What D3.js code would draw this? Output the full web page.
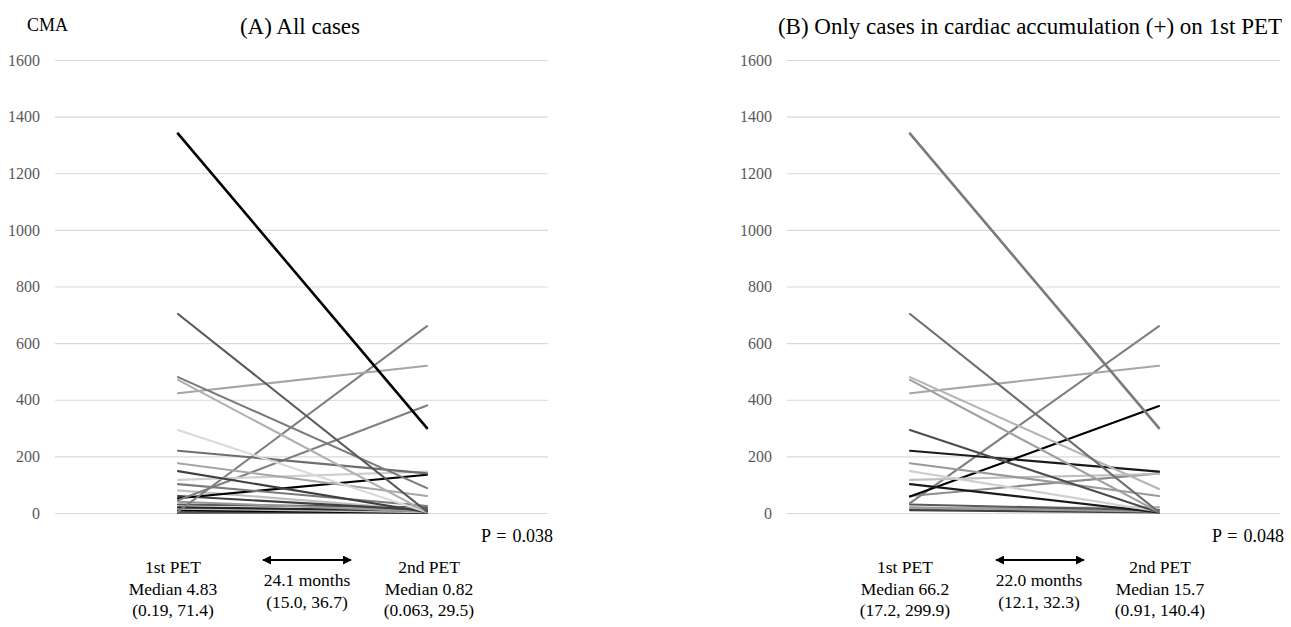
<!DOCTYPE html>
<html>
<head>
<meta charset="utf-8">
<script src="https://cdn.jsdelivr.net/npm/d3@7"></script>
<style>
  html, body { margin: 0; padding: 0; background: #fff; }
  svg { display: block; }
  svg text { font-family: "Liberation Serif", "Times New Roman", serif; }
</style>
</head>
<body>
<svg id="chart" width="1291" height="627"></svg>
<script>
// ---------- data ----------
const timepoints = ["1st PET", "2nd PET"];
const yTicks = [0, 200, 400, 600, 800, 1000, 1200, 1400, 1600];

// Panel A: all cases (CMA at 1st PET, CMA at 2nd PET)
const allFirst  = [1340, 703, 480, 470, 423, 293, 220, 176, 148, 117, 102, 5, 45, 52, 60, 80, 40, 30, 20, 15, 10, 8, 5, 3, 2, 1, 0.5, 0.2];
const allSecond = [300, 5, 88, 3, 520, 3, 140, 60, 3, 146, 25, 660, 380, 135, 10, 10, 5, 20, 8, 3, 1, 15, 2, 0.5, 1, 0.5, 0.2, 0.1];
const allColors = ["#000000", "#595959", "#7a7a7a", "#b0b0b0", "#a6a6a6", "#d9d9d9", "#6e6e6e", "#a6a6a6", "#404040", "#cfcfcf", "#7a7a7a", "#7f7f7f", "#808080", "#000000", "#404040", "#c0c0c0", "#999999", "#595959", "#262626", "#bfbfbf", "#000000", "#7f7f7f", "#404040", "#a6a6a6", "#595959", "#262626", "#808080", "#000000"];

// Panel B: only cases with cardiac accumulation (+) on 1st PET
const posFirst  = [1340, 703, 480, 470, 423, 293, 220, 176, 148, 117, 102, 58, 35, 60, 30, 20, 10, 15];
const posSecond = [300, 3, 85, 3, 520, 2, 146, 60, 5, 138, 2, 378, 660, 140, 10, 5, 2, 20];
const posColors = ["#7a7a7a", "#6e6e6e", "#b4b4b4", "#a0a0a0", "#a6a6a6", "#4d4d4d", "#1a1a1a", "#9a9a9a", "#cfcfcf", "#bfbfbf", "#1a1a1a", "#000000", "#808080", "#8c8c8c", "#595959", "#999999", "#404040", "#a6a6a6"];

const panelA = {
  title: "(A) All cases", p: "P = 0.038",
  first: allFirst, second: allSecond, colors: allColors,
  firstText: ["1st PET", "Median 4.83", "(0.19, 71.4)"],
  intervalText: ["24.1 months", "(15.0, 36.7)"],
  secondText: ["2nd PET", "Median 0.82", "(0.063, 29.5)"]
};
const panelB = {
  title: "(B) Only cases in cardiac accumulation (+) on 1st PET", p: "P = 0.048",
  first: posFirst, second: posSecond, colors: posColors,
  firstText: ["1st PET", "Median 66.2", "(17.2, 299.9)"],
  intervalText: ["22.0 months", "(12.1, 32.3)"],
  secondText: ["2nd PET", "Median 15.7", "(0.91, 140.4)"]
};

// ---------- layout ----------
const FONT = "'Liberation Serif', 'Times New Roman', serif";
const svg = d3.select("#chart");
const y = d3.scaleLinear().domain([0, 1600]).range([513, 60]);

const defs = svg.append("defs");
["start", "end"].forEach(k => {
  defs.append("marker")
    .attr("id", "arrow-" + k)
    .attr("viewBox", "0 0 10 10")
    .attr("refX", 9).attr("refY", 5)
    .attr("markerWidth", 4.5).attr("markerHeight", 4.5)
    .attr("orient", k === "start" ? "auto-start-reverse" : "auto")
    .append("path").attr("d", "M0,0 L10,5 L0,10 Z").attr("fill", "#000");
});

svg.append("text").attr("x", 27).attr("y", 31)
  .style("font-family", FONT).attr("font-size", 18).attr("fill", "#000").text("CMA");

function drawPanel(cfg, geo) {
  const g = svg.append("g");
  const x = d3.scalePoint().domain(timepoints).range([geo.x1, geo.x2]);

  // grid + y labels
  const axis = d3.axisLeft(y).tickValues(yTicks)
    .tickSize(-(geo.gridR - geo.gridL)).tickPadding(15).tickFormat(d3.format("d"));
  const ag = g.append("g").attr("transform", `translate(${geo.gridL},0)`).call(axis);
  ag.attr("font-family", null);
  ag.select(".domain").remove();
  ag.selectAll(".tick line").attr("stroke", "#d9d9d9").attr("stroke-width", 1.2);
  ag.selectAll(".tick text").attr("fill", "#595959")
    .style("font-family", FONT).style("font-size", "16px");

  // title
  g.append("text").attr("x", geo.titleX).attr("y", 34)
    .attr("text-anchor", "middle").style("font-family", FONT).attr("font-size", 23).attr("fill", "#000")
    .text(cfg.title);

  // lines
  const rows = cfg.first.map((v, i) => ({ a: v, b: cfg.second[i], c: cfg.colors[i] }));
  const line = d3.line().x(d => x(d.t)).y(d => y(d.v));
  g.append("g").selectAll("path").data(rows.slice().reverse()).join("path")
    .attr("d", d => line([{ t: timepoints[0], v: d.a }, { t: timepoints[1], v: d.b }]))
    .attr("fill", "none")
    .attr("stroke", d => d.c)
    .attr("stroke-width", d => d.a > 1000 ? 2.6 : 2.1)
    .attr("stroke-linecap", "round");

  // P value
  g.append("text").attr("x", geo.pX).attr("y", 542)
    .attr("text-anchor", "end").style("font-family", FONT).attr("font-size", 18)
    .attr("word-spacing", 1.5).text(cfg.p);

  // bottom text
  const lh = 21.5;
  const txt = (xp, yp, t) => g.append("text").attr("x", xp).attr("y", yp)
    .attr("text-anchor", "middle").style("font-family", FONT).attr("font-size", 17.5).text(t);
  cfg.firstText.forEach((t, i) => txt(geo.firstC, 573 + i * lh, t));
  cfg.secondText.forEach((t, i) => txt(geo.secondC, 573 + i * lh, t));
  cfg.intervalText.forEach((t, i) => txt(geo.midC, 586 + i * lh, t));
  g.append("line")
    .attr("x1", geo.arrowL).attr("x2", geo.arrowR).attr("y1", 560).attr("y2", 560)
    .attr("stroke", "#000").attr("stroke-width", 2)
    .attr("marker-start", "url(#arrow-start)").attr("marker-end", "url(#arrow-end)");
}

drawPanel(panelA, { gridL: 55, gridR: 548, x1: 178, x2: 427, titleX: 300, pX: 553,
  firstC: 173, secondC: 429, midC: 307, arrowL: 263, arrowR: 351 });
drawPanel(panelB, { gridL: 787, gridR: 1280, x1: 910, x2: 1159, titleX: 1030, pX: 1284,
  firstC: 905, secondC: 1160, midC: 1039, arrowL: 996, arrowR: 1084 });
</script>
</body>
</html>
